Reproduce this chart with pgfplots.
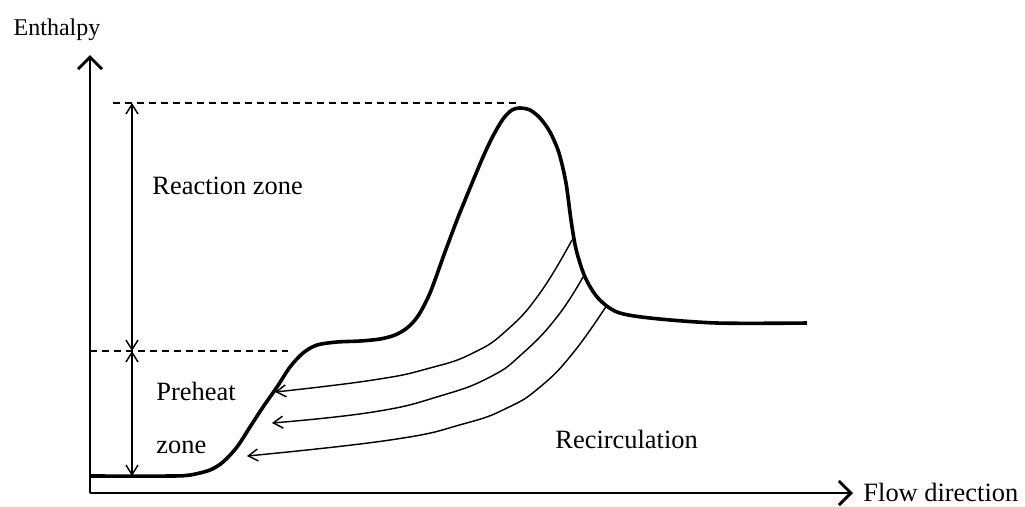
\documentclass[border=0pt]{standalone}
\usepackage{pgfplots}
\pgfplotsset{compat=1.18}
\usepackage{fontspec}
\setmainfont{Liberation Serif}
\usetikzlibrary{arrows.meta}
\begin{document}
\begin{tikzpicture}
\begin{axis}[
  scale only axis, width=11.166cm, height=6.410cm,
  xmin=90, xmax=853, ymin=10, ymax=448,
  axis lines=left,
  axis line style={line width=1.2pt, -{Straight Barb[length=5pt,width=10pt]}},
  ticks=none,
  clip=false,
  font=\fontsize{11}{13}\selectfont,
]
\path (axis cs:0,0) rectangle (axis cs:1025,503);
% main enthalpy curve
\addplot[line width=1.5pt, smooth, mark=none] coordinates {
(90,27)(170,27)(190,28)(210,33)(223,41)(237,56)(250,76)(263,96)(277,116)(290,136)(303,150)(317,158)(337,161)(360,162)(380,164)(395,168)(407,175)(418,187)(430,210)(445,251)(457,283)(470,315)(483,346)(493,367)(503,384)(512,393)(520,395)(530,393)(540,385)(550,371)(559,350)(566,320)(571,283)(576,254)(585,226)(598,205)(617,191)(650,185)(717,180)(807,180)
};
% dashed guide lines
\addplot[line width=0.6pt, dash pattern=on 3pt off 2pt, mark=none] coordinates {(113,400)(517,400)};
\addplot[line width=0.6pt, dash pattern=on 3pt off 2pt, mark=none] coordinates {(90,152)(288,152)};
% dimension arrows
\addplot[line width=0.6pt, mark=none, {Straight Barb[length=4pt,width=5pt]}-{Straight Barb[length=4pt,width=5pt]}] coordinates {(132,400)(132,152)};
\addplot[line width=0.6pt, mark=none, {Straight Barb[length=4pt,width=5pt]}-{Straight Barb[length=4pt,width=5pt]}] coordinates {(132,152)(132,27)};
% recirculation arrows
\addplot[line width=0.6pt, smooth, tension=0.8, mark=none, -{Straight Barb[length=4pt,width=5pt]}] coordinates {
(572,263)(540,210)(507,173)(473,150)(430,135)(373,123)(275,111)
};
\addplot[line width=0.6pt, smooth, tension=0.8, mark=none, -{Straight Barb[length=4pt,width=5pt]}] coordinates {
(583,226)(557,186)(523,150)(490,126)(440,107)(373,91)(272,80)
};
\addplot[line width=0.6pt, smooth, tension=0.8, mark=none, -{Straight Barb[length=4pt,width=5pt]}] coordinates {
(607,198)(573,150)(540,116)(507,95)(463,79)(390,63)(247,47)
};
% labels
\node[anchor=base, font=\fontsize{10}{12}\selectfont] at (axis cs:57,468) {Enthalpy};
\node[anchor=base west, inner sep=0pt] at (axis cs:152,309) {Reaction zone};
\node[anchor=base west, inner sep=0pt] at (axis cs:156,103) {Preheat};
\node[anchor=base west, inner sep=0pt] at (axis cs:156,50) {zone};
\node[anchor=base west, inner sep=0pt] at (axis cs:555,55) {Recirculation};
\node[anchor=base west, inner sep=0pt] at (axis cs:863,1.5) {Flow direction};
\end{axis}
\end{tikzpicture}
\end{document}
